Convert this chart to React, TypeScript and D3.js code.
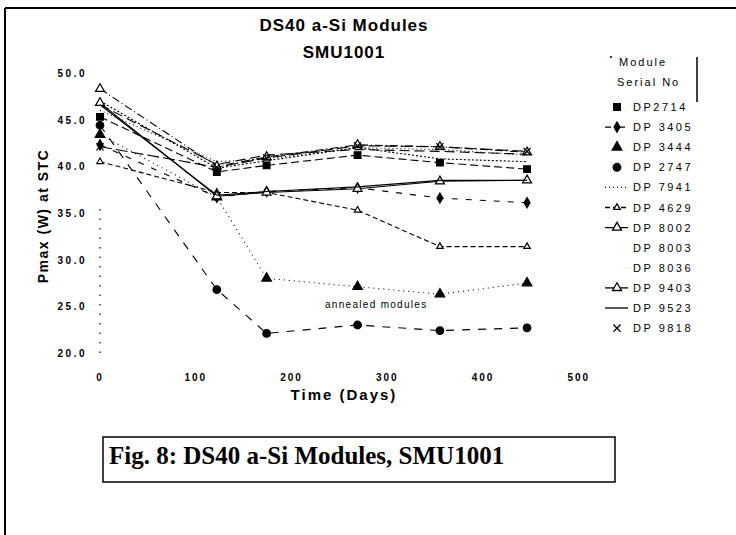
import * as d3 from "d3";

const days = [0, 122, 174, 269, 355, 446];

const seriesNames = [
  "DP2714", "DP 3405", "DP 3444", "DP 2747", "DP 7941", "DP 4629",
  "DP 8002", "DP 8003", "DP 8036", "DP 9403", "DP 9523", "DP 9818",
];

const dp2714 = [45.3, 39.4, 40.1, 41.2, 40.4, 39.7];
const dp3405 = [42.3, 36.7, 37.3, 37.7, 36.6, 36.1];
const dp3444 = [43.4, 36.7, 28.0, 27.1, 26.3, 27.5];
const dp2747 = [44.4, 26.8, 22.1, 23.0, 22.4, 22.7];
const dp7941 = [46.0, 40.5, 40.8, 42.0, 41.8, 41.2];
const dp4629 = [40.5, 37.2, 37.2, 35.3, 31.4, 31.4];
const dp8002 = [48.3, 40.0, 41.0, 42.3, 42.1, 41.5];
const dp8003 = [46.6, 40.2, 41.2, 41.8, 41.6, 41.3];
const dp8036 = [47.0, 39.8, 40.6, 42.0, 40.8, 40.5];
const dp9403 = [46.8, 36.8, 37.2, 37.6, 38.4, 38.5];
const dp9523 = [46.6, 36.9, 37.3, 37.8, 38.5, 38.5];
const dp9818 = [42.1, 39.9, 40.9, 42.2, 42.1, 41.6];

const values = [dp2714, dp3405, dp3444, dp2747, dp7941, dp4629, dp8002, dp8003, dp8036, dp9403, dp9523, dp9818];

const yTicks = [20, 25, 30, 35, 40, 45, 50];
const xTicks = [0, 100, 200, 300, 400, 500];

// marker + dash style per series
const styles: { sym: d3.SymbolType | null; fill: boolean; size: number; dash: string | null }[] = [
  { sym: d3.symbolSquare, fill: true, size: 45, dash: "8,4" },
  { sym: d3.symbolDiamond, fill: true, size: 30, dash: "6,8" },
  { sym: d3.symbolTriangle, fill: true, size: 40, dash: "1,4" },
  { sym: d3.symbolCircle, fill: true, size: 45, dash: "8,8" },
  { sym: null, fill: false, size: 0, dash: "1,3" },
  { sym: d3.symbolTriangle, fill: false, size: 18, dash: "5,3" },
  { sym: d3.symbolTriangle, fill: false, size: 35, dash: "8,3,1,3" },
  { sym: null, fill: false, size: 0, dash: "10,5" },
  { sym: null, fill: false, size: 0, dash: "2,2" },
  { sym: d3.symbolTriangle, fill: false, size: 35, dash: null },
  { sym: null, fill: false, size: 0, dash: null },
  { sym: d3.symbolTimes, fill: false, size: 35, dash: "12,4" },
];

// legend rows that show a line sample
const legendLine = [false, true, false, false, true, true, true, false, false, true, true, false];

export default function App() {
  const W = 736;
  const H = 535;
  const x = d3.scaleLinear().domain([0, 400]).range([100, 483]);
  const y = d3.scaleLinear().domain([20, 50]).range([353, 73]);

  const line = d3
    .line<number>()
    .x((_, i) => x(days[i]))
    .y((d) => y(d));

  const legX = 617;
  const legY0 = 107;
  const legStep = 20.1;
  const sans = "Arial, 'Liberation Sans', sans-serif";

  return (
    <div style={{ position: "absolute", left: 0, top: 0 }}>
      <svg width={W} height={H} style={{ display: "block", background: "#fff" }}>
        {/* frame */}
        <line x1={5} y1={8} x2={W} y2={8} stroke="#000" strokeWidth={2} />
        <line x1={5} y1={8} x2={5} y2={H} stroke="#000" strokeWidth={2} />

        {/* title */}
        <text x={344} y={31} textAnchor="middle" fontFamily={sans} fontWeight="bold" fontSize={17} letterSpacing={1}>
          DS40 a-Si Modules
        </text>
        <text x={344} y={58} textAnchor="middle" fontFamily={sans} fontWeight="bold" fontSize={17} letterSpacing={1}>
          SMU1001
        </text>

        {/* y axis, dotted as in the scan */}
        <line x1={100} y1={y(20)} x2={100} y2={y(35.5)} stroke="#000" strokeWidth={1.2} strokeDasharray="1.5,8" />
        {yTicks.map((t) => (
          <text key={t} x={87} y={y(t) + 4} textAnchor="end" fontFamily={sans} fontSize={10} fontWeight="bold" letterSpacing={2.5}>
            {t.toFixed(1)}
          </text>
        ))}
        {xTicks.map((t) => (
          <text key={t} x={x(t)} y={381} textAnchor="middle" fontFamily={sans} fontSize={10} fontWeight="bold" letterSpacing={2}>
            {t}
          </text>
        ))}
        <text
          transform={`translate(48,${216}) rotate(-90)`}
          textAnchor="middle"
          fontFamily={sans}
          fontWeight="bold"
          fontSize={14}
          letterSpacing={1.5}
        >
          Pmax (W) at STC
        </text>
        <text x={344} y={400} textAnchor="middle" fontFamily={sans} fontWeight="bold" fontSize={15} letterSpacing={2}>
          Time (Days)
        </text>

        {/* series */}
        {values.map((vals, si) => {
          const st = styles[si];
          return (
            <g key={seriesNames[si]}>
              <path d={line(vals) ?? ""} fill="none" stroke="#000" strokeWidth={1.1} strokeDasharray={st.dash ?? undefined} />
              {st.sym &&
                vals.map((v, i) => (
                  <path
                    key={i}
                    transform={`translate(${x(days[i])},${y(v)})`}
                    d={d3.symbol().type(st.sym!).size(st.size)() ?? ""}
                    fill={st.fill ? "#000" : "#fff"}
                    stroke="#000"
                    strokeWidth={1.2}
                  />
                ))}
            </g>
          );
        })}

        <text x={325} y={308} fontFamily={sans} fontSize={10} letterSpacing={1.3}>
          annealed modules
        </text>

        {/* legend */}
        <circle cx={611} cy={57} r={1} fill="#000" />
        <text x={619} y={66} fontFamily={sans} fontSize={11} letterSpacing={2}>Module</text>
        <text x={617} y={86} fontFamily={sans} fontSize={11} letterSpacing={2}>Serial No</text>
        <line x1={697} y1={57} x2={697} y2={102} stroke="#000" strokeWidth={1.5} />
        {seriesNames.map((n, i) => {
          const st = styles[i];
          const ly = legY0 + i * legStep;
          return (
            <g key={n}>
              {legendLine[i] && (
                <line x1={605} y1={ly} x2={628} y2={ly} stroke="#000" strokeWidth={1.3} strokeDasharray={st.dash ?? undefined} />
              )}
              {st.sym && (
                <path
                  transform={`translate(${legX},${ly})`}
                  d={d3.symbol().type(st.sym).size(st.size)() ?? ""}
                  fill={st.fill ? "#000" : "#fff"}
                  stroke="#000"
                  strokeWidth={1.3}
                />
              )}
              <text x={633} y={ly + 4} fontFamily={sans} fontSize={11} letterSpacing={2.5}>
                {n}
              </text>
            </g>
          );
        })}

        {/* caption box */}
        <rect x={103} y={437} width={512} height={45} fill="none" stroke="#000" strokeWidth={1.5} />
        <text x={109} y={464} fontFamily="'Liberation Serif', 'Times New Roman', serif" fontWeight="bold" fontSize={25}>
          Fig. 8: DS40 a-Si Modules, SMU1001
        </text>
      </svg>
    </div>
  );
}
